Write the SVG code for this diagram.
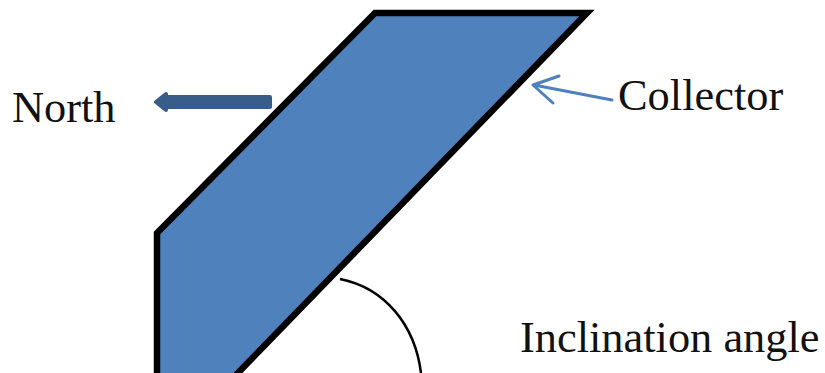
<svg xmlns="http://www.w3.org/2000/svg" width="825" height="373" viewBox="0 0 825 373">
<style>
text{font-family:"Liberation Serif","Times New Roman",serif;font-size:44.4px;fill:#111}
.edge{fill:none;stroke:#000;stroke-width:6.5}
.thin{fill:none;stroke:#4f81bd;stroke-width:3;stroke-linecap:round;stroke-linejoin:round}
</style>
<rect width="825" height="373" fill="#fff"/>
<g id="collector"><path d="M157 376V233L375 13H587L235 376Z" fill="#4f81bd"/><path class="edge" d="M157 376V233L375 13H587L235 376"/></g>
<g id="connectors">
<path d="M156 102L166 94V97H270V107H166V110Z" fill="#385d8a" stroke="#385d8a" stroke-width="4" stroke-linejoin="round"/>
<path class="thin" d="M612 100L534 85M559 76L533 85L553 103"/>
<path d="M340 279C385 288 415 325 421 373" fill="none" stroke="#000" stroke-width="2.5"/>
</g>
<g id="north"><text x="12" y="122">North</text></g>
<g id="collector-label"><text x="618" y="110">Collector</text></g>
<g id="angle"><text x="520" y="352">Inclination angle</text></g>
</svg>
